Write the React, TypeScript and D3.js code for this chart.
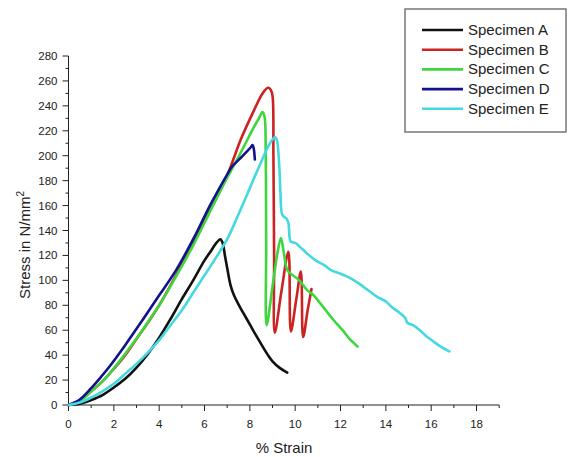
import React from "react";
import * as d3 from "d3";

type P = [number, number];

const seriesNames = ["Specimen A", "Specimen B", "Specimen C", "Specimen D", "Specimen E"];
const seriesColors = ["#111111", "#cc2222", "#3dd63d", "#12128f", "#44d9e0"];

const specimenA: P[] = [
  [0, 0], [0.5, 1], [1, 4], [1.5, 8], [2, 14], [2.5, 21], [3, 30], [3.5, 41], [4, 54], [4.5, 69],
  [5, 85], [5.5, 100], [6, 116], [6.3, 124], [6.5, 129.5], [6.7, 133], [6.8, 130], [6.9, 120],
  [7.0, 110], [7.15, 96], [7.3, 88], [7.55, 79], [7.8, 71], [8.05, 63], [8.3, 55], [8.56, 47],
  [8.8, 40], [9.0, 35], [9.3, 30], [9.65, 26],
];

const specimenB: P[] = [
  [0, 0], [0.5, 4], [1, 11], [1.5, 19], [2, 29], [2.5, 40], [3, 53], [3.5, 66], [4, 80], [4.5, 96],
  [5, 113], [5.5, 130], [6, 148], [6.5, 165], [7, 184], [7.23, 195], [7.6, 213], [8.12, 234],
  [8.56, 250], [8.8, 254.5], [8.92, 253], [9.0, 248], [9.04, 200], [9.07, 120], [9.1, 58],
  [9.4, 92], [9.7, 123], [9.81, 59], [10.05, 85], [10.25, 107], [10.35, 54.5], [10.55, 76], [10.72, 93],
];

const specimenC: P[] = [
  [0, 0], [0.5, 3], [1, 11], [1.5, 19], [1.8, 25], [2.5, 41], [3.26, 60], [4, 80], [4.74, 103],
  [5.5, 128], [6.21, 154], [6.7, 172], [7.23, 190], [7.7, 206], [8.12, 221], [8.4, 230], [8.56, 235],
  [8.65, 231], [8.7, 200], [8.72, 130], [8.74, 64], [9.0, 95], [9.2, 120], [9.37, 134], [9.5, 122],
  [9.66, 108], [9.9, 104], [10.18, 100], [10.54, 92], [10.76, 89], [11.0, 84], [11.35, 76],
  [11.7, 68], [12.09, 60], [12.4, 53], [12.75, 47],
];

const specimenD: P[] = [
  [0, 0], [0.47, 4], [1, 13.5], [1.5, 24], [1.8, 30.7], [2.5, 48], [3.26, 68], [4, 88], [4.74, 108],
  [5.5, 133], [6.21, 159], [6.6, 172], [6.94, 183], [7.2, 191], [7.53, 197], [7.8, 202], [8.05, 207],
  [8.12, 208.5], [8.17, 206], [8.22, 197],
];

const specimenE: P[] = [
  [0, 0], [0.5, 2], [1, 6], [1.5, 11], [2, 17], [2.5, 25], [3, 33], [3.5, 42], [4, 52], [4.5, 64],
  [5, 76], [5.5, 90], [6, 104], [6.5, 118], [7, 133], [7.5, 153], [8, 174], [8.4, 191], [8.8, 207],
  [9.0, 213], [9.12, 215], [9.2, 212], [9.29, 194], [9.35, 170], [9.41, 154], [9.5, 151], [9.6, 150],
  [9.7, 146], [9.75, 135], [9.8, 131], [10.0, 130], [10.2, 127], [10.5, 122], [10.9, 116], [11.3, 112],
  [11.6, 108], [11.9, 106], [12.3, 103], [12.6, 100], [13.0, 95], [13.3, 91], [13.6, 87], [14.0, 83],
  [14.3, 78], [14.6, 74], [14.85, 70], [14.95, 66], [15.2, 64], [15.5, 60], [15.8, 55], [16.1, 51],
  [16.4, 47], [16.8, 43],
];

const allSeries = [specimenA, specimenB, specimenC, specimenD, specimenE];
const drawOrder = [1, 2, 0, 3, 4];

const xTicks = [0, 2, 4, 6, 8, 10, 12, 14, 16, 18];
const xMinorTicks = d3.range(0, 20, 1);
const yTicks = [0, 20, 40, 60, 80, 100, 120, 140, 160, 180, 200, 220, 240, 260, 280];
const yMinorTicks = d3.range(0, 290, 10);

const xTitle = "% Strain";
const yTitle = "Stress in N/mm";

export default function App() {
  const W = 569, H = 457;
  const x = d3.scaleLinear().domain([0, 19]).range([68.5, 499.2]);
  const y = d3.scaleLinear().domain([0, 280]).range([405, 56]);
  const line = d3.line<P>().x(d => x(d[0])).y(d => y(d[1])).curve(d3.curveCatmullRom.alpha(0.5));
  const font = "'Liberation Sans', Arial, sans-serif";
  const axisColor = "#222";

  const legendX = 405, legendY = 9, legendW = 161, legendH = 123;

  return (
    <svg width={W} height={H} style={{ position: "absolute", left: 0, top: 0, background: "#fff" }}
      fontFamily={font}>
      <rect x={0} y={0} width={W} height={H} fill="#fff" />
      {/* axes */}
      <line x1={x(0)} x2={x(0)} y1={y(0)} y2={y(280)} stroke={axisColor} strokeWidth={1} />
      <line x1={x(0)} x2={x(19)} y1={y(0)} y2={y(0)} stroke={axisColor} strokeWidth={1} />
      {yMinorTicks.map(t => (
        <line key={"ym" + t} x1={x(0)} x2={x(0) - (t % 20 === 0 ? 6 : 3)} y1={y(t)} y2={y(t)}
          stroke={axisColor} strokeWidth={1} />
      ))}
      {xMinorTicks.map(t => (
        <line key={"xm" + t} x1={x(t)} x2={x(t)} y1={y(0)} y2={y(0) + (t % 2 === 0 ? 6 : 3)}
          stroke={axisColor} strokeWidth={1} />
      ))}
      {yTicks.map(t => (
        <text key={"yt" + t} x={x(0) - 11} y={y(t)} dy="0.35em" textAnchor="end" fontSize={11.5} fill="#222">
          {t}
        </text>
      ))}
      {xTicks.map(t => (
        <text key={"xt" + t} x={x(t)} y={428} textAnchor="middle" fontSize={11.5} fill="#222">
          {t}
        </text>
      ))}
      <text x={284} y={453} textAnchor="middle" fontSize={15} fill="#222">{xTitle}</text>
      <text transform="translate(30,245) rotate(-90)" textAnchor="middle" fontSize={15} fill="#222">
        {yTitle}
        <tspan dy="-6" fontSize={10}>2</tspan>
      </text>

      {/* series */}
      {drawOrder.map(i => (
        <path key={"s" + i} d={line(allSeries[i]) || ""} fill="none" stroke={seriesColors[i]}
          strokeWidth={2.6} strokeLinejoin="round" strokeLinecap="round" />
      ))}

      {/* legend */}
      <rect x={legendX} y={legendY} width={legendW} height={legendH} fill="#fff" stroke="#777" strokeWidth={1.5} />
      {seriesNames.map((n, i) => {
        const by = 35 + i * 19.7;
        return (
          <g key={"lg" + i}>
            <line x1={422} x2={463} y1={by - 5} y2={by - 5} stroke={seriesColors[i]} strokeWidth={2.6} />
            <text x={468} y={by} fontSize={15} fill="#222">{n}</text>
          </g>
        );
      })}
    </svg>
  );
}
